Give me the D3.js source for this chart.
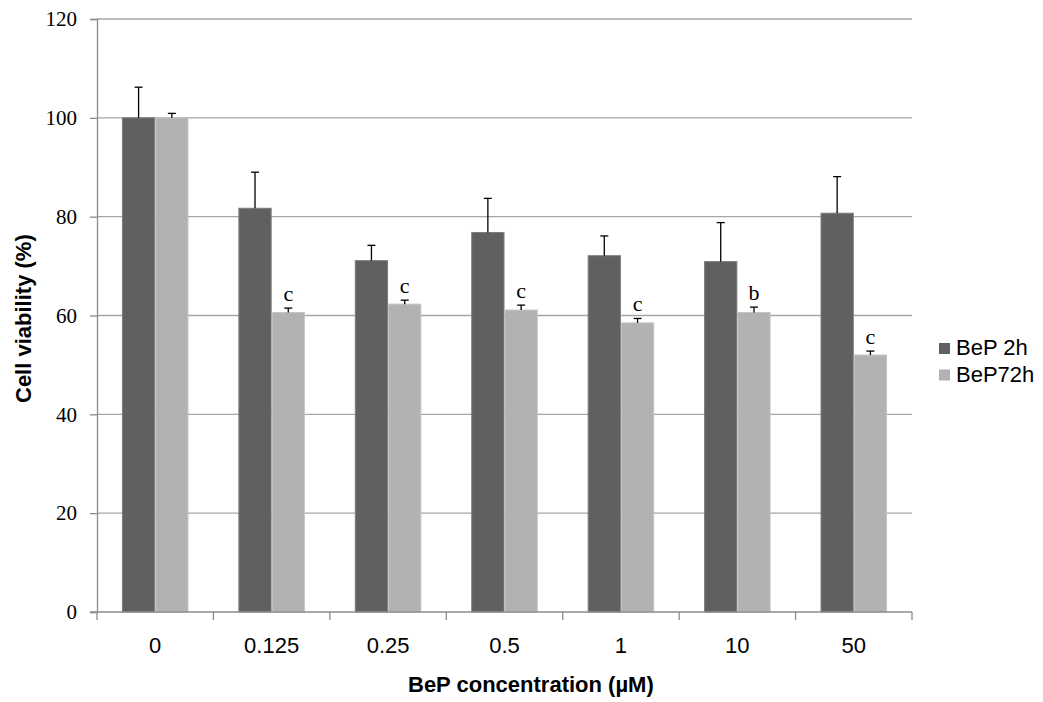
<!DOCTYPE html>
<html>
<head>
<meta charset="utf-8">
<script src="https://cdn.jsdelivr.net/npm/d3@7"></script>
<style>
  html, body { margin: 0; padding: 0; background: #fff; }
  svg { display: block; }
</style>
</head>
<body>
<script>
// ---- data ----
const categories = ["0", "0.125", "0.25", "0.5", "1", "10", "50"];
const seriesNames = ["BeP 2h", "BeP72h"];
const values2h  = [100, 81.7, 71.1, 76.8, 72.1, 70.9, 80.7];
const values72h = [100, 60.6, 62.3, 61.1, 58.5, 60.6, 52.0];
const errors2h  = [6.2, 7.3, 3.1, 6.9, 4.0, 7.9, 7.4];
const errors72h = [0.9, 0.9, 0.8, 1.0, 0.9, 1.1, 0.8];
const letters72h = ["", "c", "c", "c", "c", "b", "c"];
const yTicks = [0, 20, 40, 60, 80, 100, 120];

const W = 1043, H = 702;
const m = { left: 97, right: 1043 - 912, top: 19, bottom: 702 - 612 };
const colors = ["#606060", "#b2b2b2"];
const strokes = ["#7c7c7c", "#c4c4c4"];
const SANS = "'Liberation Sans', Arial, sans-serif";
const SERIF = "'Liberation Serif', 'Times New Roman', serif";

const svg = d3.select("body").append("svg").attr("width", W).attr("height", H);

const x0 = d3.scaleBand().domain(categories).range([m.left, W - m.right]).padding(0);
const x1 = d3.scaleBand().domain(seriesNames).range([0, x0.bandwidth()]).paddingInner(0).paddingOuter(0.75);
const y = d3.scaleLinear().domain([0, 120]).range([H - m.bottom, m.top]);

// gridlines
svg.append("g").selectAll("line").data(yTicks.filter(d => d > 0)).join("line")
  .attr("x1", m.left).attr("x2", W - m.right)
  .attr("y1", d => y(d)).attr("y2", d => y(d))
  .attr("stroke", "#a6a6a6").attr("stroke-width", 1.3);

// y axis
const yAxis = svg.append("g").attr("transform", `translate(${m.left},0)`)
  .call(d3.axisLeft(y).tickValues(yTicks).tickSize(7).tickPadding(13));
yAxis.select(".domain").attr("stroke", "#8c8c8c").attr("stroke-width", 1.3);
yAxis.selectAll(".tick line").attr("stroke", "#8c8c8c").attr("stroke-width", 1.3);
yAxis.selectAll(".tick text").attr("font-family", SERIF)
  .attr("font-size", 21).attr("fill", "#000");

// bars
const data = categories.map((c, i) => ({
  cat: c,
  items: [
    { s: seriesNames[0], v: values2h[i], e: errors2h[i], l: "", k: 0 },
    { s: seriesNames[1], v: values72h[i], e: errors72h[i], l: letters72h[i], k: 1 }
  ]
}));

const groups = svg.append("g").selectAll("g").data(data).join("g")
  .attr("transform", d => `translate(${x0(d.cat)},0)`);

groups.selectAll("rect").data(d => d.items).join("rect")
  .attr("x", d => x1(d.s) + 0.5)
  .attr("width", x1.bandwidth() - 1)
  .attr("y", d => y(d.v))
  .attr("height", d => y(0) - y(d.v))
  .attr("fill", d => colors[d.k])
  .attr("stroke", d => strokes[d.k])
  .attr("stroke-width", 1);

// error bars
const eb = groups.selectAll("g.err").data(d => d.items).join("g").attr("class", "err");
eb.append("line")
  .attr("x1", d => x1(d.s) + x1.bandwidth() / 2).attr("x2", d => x1(d.s) + x1.bandwidth() / 2)
  .attr("y1", d => y(d.v)).attr("y2", d => y(d.v + d.e))
  .attr("stroke", "#000").attr("stroke-width", 1.3);
eb.append("line")
  .attr("x1", d => x1(d.s) + x1.bandwidth() / 2 - 4).attr("x2", d => x1(d.s) + x1.bandwidth() / 2 + 4)
  .attr("y1", d => y(d.v + d.e)).attr("y2", d => y(d.v + d.e))
  .attr("stroke", "#000").attr("stroke-width", 1.3);

// significance letters
groups.selectAll("text.sig").data(d => d.items.filter(it => it.l)).join("text")
  .attr("class", "sig")
  .attr("x", d => x1(d.s) + x1.bandwidth() / 2)
  .attr("y", d => y(d.v + d.e) - 7)
  .attr("text-anchor", "middle")
  .attr("font-family", SERIF)
  .attr("font-size", 22)
  .attr("fill", "#000")
  .text(d => d.l);

// x axis
const xAxis = svg.append("g").attr("transform", `translate(0,${y(0)})`)
  .call(d3.axisBottom(x0).tickSize(0).tickPadding(25));
xAxis.select(".domain").remove();
xAxis.selectAll(".tick text").attr("font-family", SANS)
  .attr("font-size", 22).attr("fill", "#000");
svg.append("line").attr("x1", m.left - 7).attr("x2", W - m.right)
  .attr("y1", y(0)).attr("y2", y(0)).attr("stroke", "#8c8c8c").attr("stroke-width", 1.3);
const boundaries = categories.map(c => x0(c)).concat([x0(categories[categories.length - 1]) + x0.bandwidth()]);
svg.append("g").selectAll("line").data(boundaries).join("line")
  .attr("x1", d => d).attr("x2", d => d)
  .attr("y1", y(0)).attr("y2", y(0) + 8)
  .attr("stroke", "#8c8c8c").attr("stroke-width", 1.3);

// axis titles
svg.append("text")
  .attr("x", 408).attr("y", 692)
  .attr("text-anchor", "start")
  .attr("font-family", SANS)
  .attr("font-weight", "bold").attr("font-size", 22).attr("fill", "#000")
  .text("BeP concentration (µM)");

svg.append("text")
  .attr("transform", `translate(31,403) rotate(-90)`)
  .attr("text-anchor", "start")
  .attr("font-family", SANS)
  .attr("font-weight", "bold").attr("font-size", 22).attr("fill", "#000")
  .text("Cell viability (%)");

// legend
const legend = svg.append("g").attr("transform", "translate(939,343)");
const li = legend.selectAll("g").data(seriesNames).join("g")
  .attr("transform", (d, i) => `translate(0,${i * 26.5})`);
li.append("rect").attr("width", 11).attr("height", 11)
  .attr("fill", (d, i) => colors[i]);
li.append("text").attr("x", 17).attr("y", 12)
  .attr("font-family", SANS)
  .attr("font-size", 22).attr("fill", "#000")
  .text(d => d);
</script>
</body>
</html>
